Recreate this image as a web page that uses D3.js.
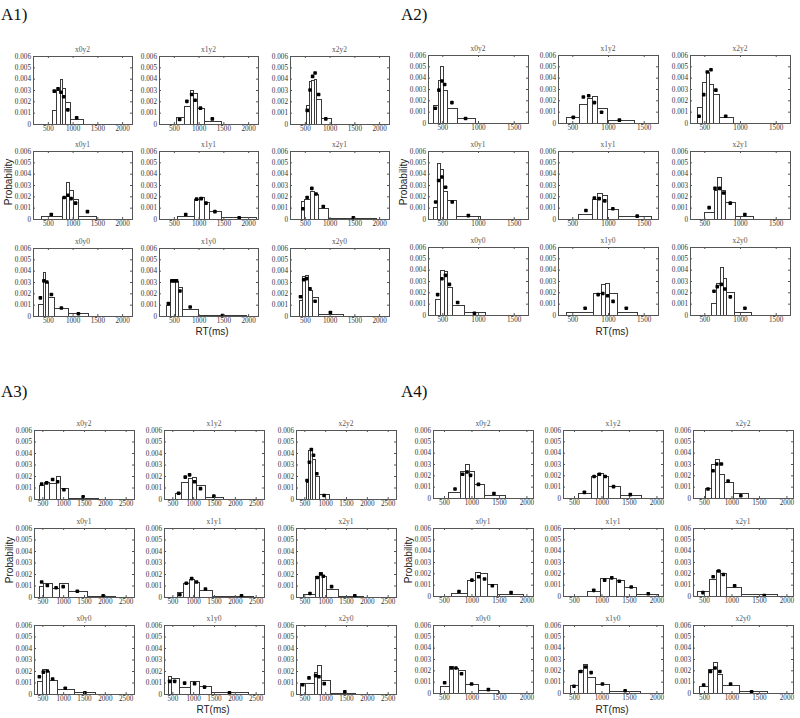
<!DOCTYPE html>
<html><head><meta charset="utf-8">
<script src="https://cdn.jsdelivr.net/npm/d3@7"></script>
<style>body{margin:0;background:#fff}svg{display:block}</style>
</head><body><svg id="c" width="800" height="718"></svg>
<script>
const panelNames = ["A1)", "A2)", "A3)", "A4)"];
const subplotTitles = ["x0y2","x1y2","x2y2","x0y1","x1y1","x2y1","x0y0","x1y0","x2y0"];
const yTicks = [0, 0.001, 0.002, 0.003, 0.004, 0.005, 0.006];
const xDomains = [[200, 2200], [300, 1700], [300, 2700], [300, 2120]];
const xTicks = [[500,1000,1500,2000],[500,1000,1500],[500,1000,1500,2000,2500],[500,1000,1500,2000]];

const A1_edges = [
 [589,672,739,789,852,957,1207],
 [534,701,826,893,967,1110,1443],
 [519,578,631,682,732,823,1023],
 [360,790,870,934,1000,1110,1470],
 [570,900,1005,1100,1200,1450,2150],
 [428,490,601,681,772,972,1940],
 [304,395,446,513,631,917,1317],
 [349,431,520,589,658,988,1965],
 [377,448,505,561,648,766,1266]];
const A1_heights = [
 [.0012,.003,.004,.0032,.0019,.0004],
 [.0006,.0016,.003,.0027,.0014,.0003],
 [.0017,.0038,.0039,.004,.0022,.0005],
 [.00025,.0019,.0033,.0026,.0018,.0003],
 [.0003,.0018,.0019,.0015,.0007,.00018],
 [.0016,.0018,.0025,.0022,.001,.0001],
 [.0011,.0039,.003,.0017,.0007,.00025],
 [.001,.0032,.0031,.0026,.0006,.0001],
 [.0014,.0035,.0036,.0023,.0017,.0002]];
const A1_dotX = [
 [630,706,764,820,904,1082],
 [617,763,860,930,1038,1277],
 [548,605,657,707,778,923],
 [569,830,905,970,1060,1300],
 [740,960,1055,1150,1330,1820],
 [459,546,641,727,872,1480],
 [349,420,480,572,774,1117],
 [390,459,507,555,624,830,1484],
 [412,476,533,604,707,1016]];
const A1_dotY = [
 [.0029,.0031,.0028,.0024,.00125,.00055],
 [.0004,.002,.0026,.0021,.0014,.00045],
 [.0012,.003,.0042,.0045,.0026,.00045],
 [.0004,.0019,.0021,.0018,.0014,.00065],
 [.0004,.00175,.0018,.0014,.00065,.0001],
 [.0009,.0019,.0027,.0022,.0011,.0001],
 [.0016,.0031,.003,.0019,.0007,.0002],
 [.0011,.0031,.0031,.0031,.0022,.0008,.00005],
 [.0017,.0032,.0033,.0024,.0013,.0003]];

const A2_edges = [
 [370,440,472,514,565,709,951],
 [414,600,700,770,850,990,1360],
 [393,464,520,564,623,700,900],
 [370,430,472,509,570,686,1030],
 [582,773,850,918,986,1145,1600],
 [500,636,682,727,795,932,1182],
 [400,470,520,570,630,800,1100],
 [410,795,905,960,1018,1130,1400],
 [600,668,714,759,809,910,1160]];
const A2_heights = [
 [.0016,.0038,.005,.0029,.0013,.0004],
 [.0005,.0017,.0022,.0024,.0013,.00025],
 [.0014,.0036,.0045,.0034,.0026,.0005],
 [.0011,.0049,.0044,.0025,.0017,.0003],
 [.0004,.0018,.0023,.0021,.0009,.00025],
 [.00065,.0026,.0037,.0026,.0015,.0003],
 [.0014,.004,.0039,.0025,.0009,.0003],
 [.0003,.0019,.0027,.0028,.0019,.0003],
 [.0011,.0028,.0042,.0033,.002,.0003]];
const A2_dotX = [
 [402,453,495,533,635,826],
 [514,655,730,810,910,1160],
 [428,492,542,594,662,800],
 [407,449,495,546,639,865],
 [691,809,877,955,1068,1409],
 [568,650,714,773,864,1068],
 [435,495,545,600,715,950],
 [680,862,927,995,1071,1256],
 [636,682,737,787,864,1069]];
const A2_dotY = [
 [.0013,.0029,.0037,.0034,.0018,.0004],
 [.0005,.0023,.0024,.0018,.00095,.00025],
 [.0006,.0025,.0045,.0047,.0029,.0006],
 [.0015,.0034,.0037,.0028,.0015,.0003],
 [.00075,.00185,.0018,.0016,.0009,.00025],
 [.001,.0027,.0027,.0023,.0014,.0004],
 [.0018,.0032,.0035,.0027,.0011,.00015],
 [.0006,.0018,.0019,.0017,.0012,.0006],
 [.0021,.0025,.0027,.0023,.0016,.0006]];

const A3_edges = [
 [428,548,659,819,922,1122,1839],
 [556,715,875,978,1074,1273,1727],
 [532,599,645,692,749,849,1099],
 [428,520,740,890,1110,1570,2240],
 [600,760,910,1020,1140,1450,2430],
 [476,755,851,930,1010,1313,1911],
 [380,484,588,659,843,1257,1775],
 [396,476,651,930,1130,1433,2309],
 [396,516,731,811,890,1114,1712]];
const A3_heights = [
 [.0012,.0015,.0014,.002,.001,.0001],
 [.0005,.0015,.0018,.0019,.0012,.0002],
 [.0015,.0043,.0043,.0035,.002,.0004],
 [.001,.0012,.0008,.0012,.0005,.0001],
 [.0004,.0012,.0016,.0013,.0006,.00012],
 [.0003,.0018,.0022,.0018,.0007,.0001],
 [.0011,.0022,.002,.0012,.0004,.0002],
 [.0016,.0014,.0006,.0011,.0007,.00015],
 [.001,.001,.0019,.0025,.0012,.0001]];
const A3_dotX = [
 [484,604,747,867,1018,1480],
 [651,810,914,1034,1177,1496],
 [565,622,668,720,799,974],
 [484,620,830,1000,1340,1960],
 [680,835,965,1080,1295,2160],
 [635,811,891,954,1154,1711],
 [428,524,620,747,1050,1520],
 [436,556,795,1034,1273,1871],
 [460,612,771,851,978,1472]];
const A3_dotY = [
 [.0013,.0014,.0017,.0015,.0008,.0002],
 [.0005,.0019,.0021,.0015,.0009,.00025],
 [.0016,.0032,.0043,.0038,.0022,.0003],
 [.0013,.001,.0008,.0009,.0005,.0001],
 [.0002,.0012,.0016,.0013,.0007,.0001],
 [.0003,.0017,.002,.0018,.0009,.0001],
 [.0015,.0019,.002,.0013,.0005,.0001],
 [.0011,.0011,.00095,.0009,.0006,.0001],
 [.0008,.0014,.0016,.0015,.0009,.0002]];

const A4_edges = [
 [575,795,889,951,1045,1221,1610],
 [567,811,915,1019,1128,1330,1720],
 [512,622,695,775,866,1019,1305],
 [636,915,1070,1163,1287,1473,1938],
 [736,965,1139,1263,1418,1635,2038],
 [376,593,717,798,903,1182,1833],
 [423,589,671,754,878,1120,1485],
 [429,577,665,742,889,1137,1710],
 [406,571,659,736,836,1131,1645]];
const A4_heights = [
 [.0005,.0024,.003,.0024,.0012,.0003],
 [.00045,.0019,.0022,.0019,.0011,.00025],
 [.0009,.003,.0034,.0021,.0014,.0004],
 [.0003,.0014,.0021,.002,.0011,.0002],
 [.0004,.0016,.0016,.0014,.0008,.0002],
 [.0004,.0015,.0023,.002,.0008,.0002],
 [.0006,.0024,.0022,.002,.0008,.0003],
 [.0007,.002,.0026,.0014,.0008,.0002],
 [.0006,.0021,.0027,.0017,.0007,.0002]];
const A4_dotX = [
 [701,839,920,983,1127,1409],
 [689,866,964,1068,1220,1525],
 [573,665,732,817,939,1171],
 [773,1008,1132,1238,1380,1721],
 [860,1058,1188,1325,1542,1852],
 [481,667,767,853,1058,1597],
 [512,636,718,819,1002,1308],
 [500,624,712,812,1018,1431],
 [494,618,701,789,984,1367]];
const A4_dotY = [
 [.0008,.0021,.0023,.002,.0012,.0004],
 [.0005,.0019,.0021,.0019,.001,.0003],
 [.0008,.0024,.003,.003,.0015,.0002],
 [.0004,.0014,.0017,.0015,.0009,.0003],
 [.0005,.0014,.0016,.0013,.0008,.0002],
 [.0003,.0017,.0022,.0019,.0009,.00005],
 [.0009,.0022,.0022,.0017,.0008,.0003],
 [.0006,.0019,.0023,.0018,.0008,.0002],
 [.0007,.0019,.0022,.0019,.0008,.0001]];

const panelData = [
 {edges:A1_edges, heights:A1_heights, dotX:A1_dotX, dotY:A1_dotY},
 {edges:A2_edges, heights:A2_heights, dotX:A2_dotX, dotY:A2_dotY},
 {edges:A3_edges, heights:A3_heights, dotX:A3_dotX, dotY:A3_dotY},
 {edges:A4_edges, heights:A4_heights, dotX:A4_dotX, dotY:A4_dotY}];

const layout = [
 {label:[1,20], cols:[33,159,290], rows:[56,151,248], w:99, h:68, prob:[12,182], rt:[212,335]},
 {label:[401,20], cols:[428,558,690], rows:[55,151,247], w:100, h:68, prob:[407,182], rt:[612,335]},
 {label:[1,397], cols:[34,164,296], rows:[430,528,625], w:100, h:69, prob:[13,560], rt:[213,713]},
 {label:[401,397], cols:[433,563,693], rows:[430,528,625], w:100, h:68, prob:[412,560], rt:[612,713]}];

const SERIF = "'Liberation Serif','Times New Roman',serif";
const SANS = "'Liberation Sans',Arial,sans-serif";
const svg = d3.select("#c");

panelNames.forEach((name, p) => {
  const L = layout[p], D = panelData[p];
  svg.append("text").attr("x", L.label[0]).attr("y", L.label[1])
    .attr("font-family", SERIF).attr("font-size", 17).attr("fill", "#111").text(name);
  svg.append("text").attr("transform", `translate(${L.prob[0]},${L.prob[1]}) rotate(-90)`)
    .attr("text-anchor", "middle").attr("font-family", SANS).attr("font-size", 10)
    .attr("fill", "#222").text("Probability");
  svg.append("text").attr("x", L.rt[0]).attr("y", L.rt[1]).attr("text-anchor", "middle")
    .attr("font-family", SANS).attr("font-size", 10).attr("fill", "#222").text("RT(ms)");

  for (let k = 0; k < 9; k++) {
    const r = Math.floor(k / 3), c = k % 3;
    const x0 = L.cols[c], y0 = L.rows[r];
    const x = d3.scaleLinear().domain(xDomains[p]).range([x0, x0 + L.w]);
    const y = d3.scaleLinear().domain([0, 0.006]).range([y0 + L.h, y0]);
    const g = svg.append("g");

    g.append("text").attr("x", x0 + L.w / 2).attr("y", y0 - 4).attr("text-anchor", "middle")
      .attr("font-family", SERIF).attr("font-size", 7.5).attr("fill", "#555").text(subplotTitles[k]);

    const e = D.edges[k];
    g.selectAll("rect.bar").data(D.heights[k]).join("rect").attr("class", "bar")
      .attr("x", (d, i) => Math.round(x(e[i])) + 0.5)
      .attr("width", (d, i) => Math.round(x(e[i + 1])) - Math.round(x(e[i])))
      .attr("y", d => Math.round(y(d)) + 0.5)
      .attr("height", d => Math.round(y(0)) - Math.round(y(d)))
      .attr("fill", "#fff").attr("stroke", "#3a3a3a").attr("stroke-width", 1);

    const dots = D.dotX[k].map((v, i) => [v, D.dotY[k][i]]);
    g.selectAll("rect.dot").data(dots).join("rect").attr("class", "dot")
      .attr("x", d => x(d[0]) - 1.8).attr("y", d => y(d[1]) - 1.8)
      .attr("width", 3.6).attr("height", 3.6).attr("rx", 0.8).attr("fill", "#000");

    g.append("rect").attr("x", x0 + 0.5).attr("y", y0 + 0.5).attr("width", L.w).attr("height", L.h)
      .attr("fill", "none").attr("stroke", "#555").attr("stroke-width", 1);

    const styleAxis = sel => {
      sel.select(".domain").remove();
      sel.selectAll("line").attr("stroke", "#555");
      sel.attr("font-family", SERIF).attr("font-size", 7.2);
      sel.selectAll("text").attr("fill", "#333");
    };
    g.append("g").attr("transform", `translate(0,${y0 + L.h})`)
      .call(d3.axisBottom(x).tickValues(xTicks[p]).tickSizeInner(-2).tickSizeOuter(0).tickPadding(2).tickFormat(d3.format("d")))
      .call(styleAxis);
    g.append("g").attr("transform", `translate(0,${y0})`)
      .call(d3.axisTop(x).tickValues(xTicks[p]).tickSizeInner(-2).tickSizeOuter(0).tickFormat(""))
      .call(styleAxis);
    g.append("g").attr("transform", `translate(${x0},0)`)
      .call(d3.axisLeft(y).tickValues(yTicks).tickSizeInner(-2).tickSizeOuter(0).tickPadding(2)
        .tickFormat(d => d === 0 ? "0" : d3.format(".3f")(d)))
      .call(styleAxis);
    g.append("g").attr("transform", `translate(${x0 + L.w},0)`)
      .call(d3.axisRight(y).tickValues(yTicks).tickSizeInner(-2).tickSizeOuter(0).tickFormat(""))
      .call(styleAxis);
  }
});
</script></body></html>
